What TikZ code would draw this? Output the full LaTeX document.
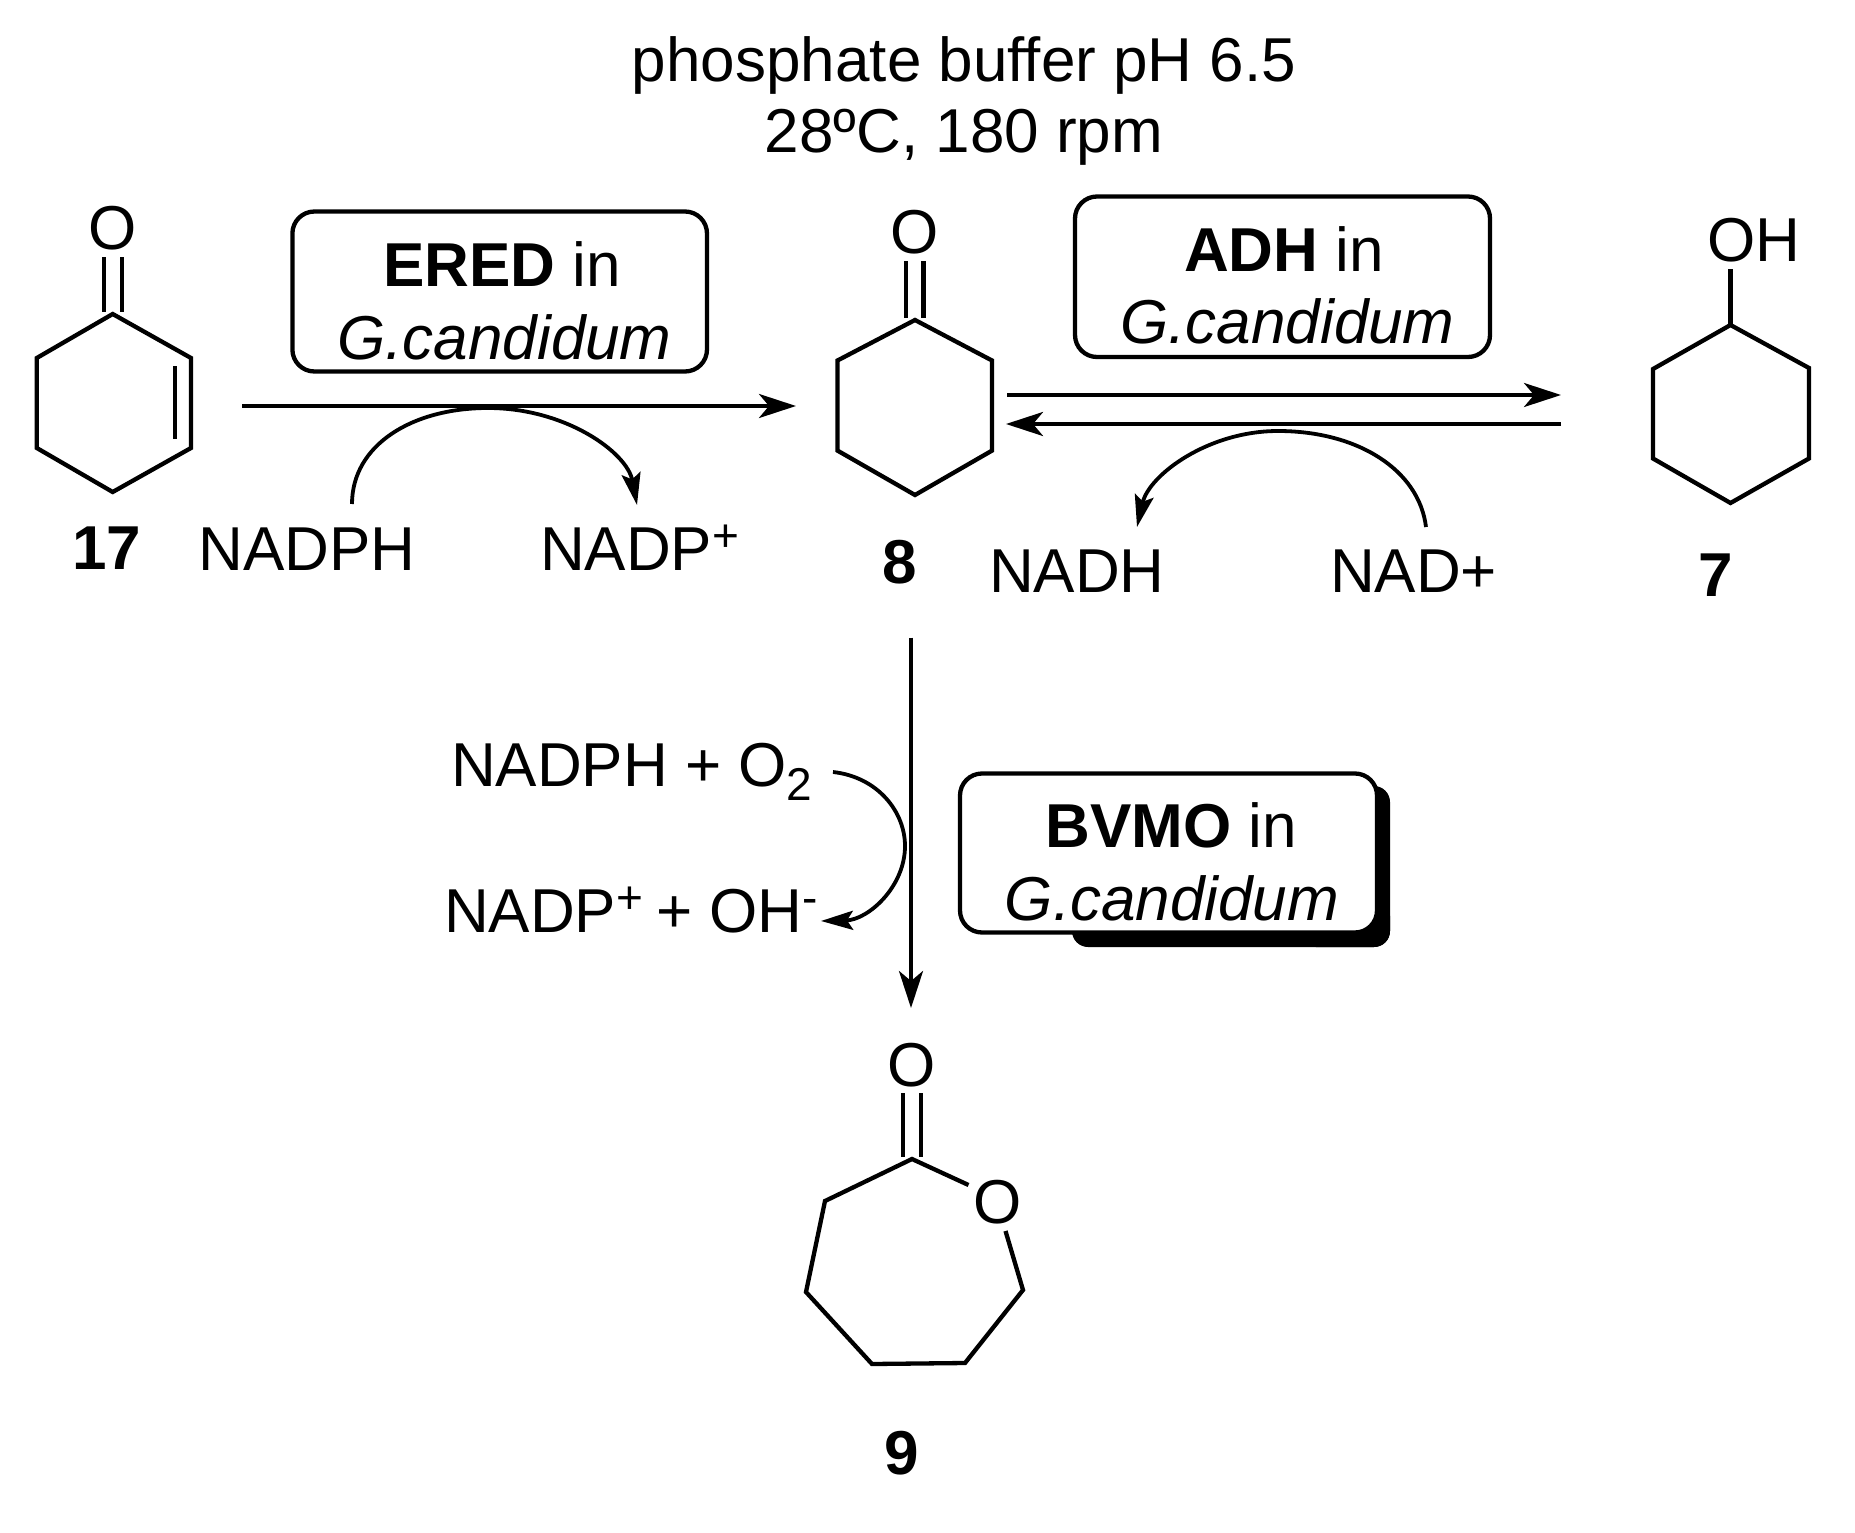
\documentclass[tikz,border=0pt]{standalone}
\usepackage{fontspec}
\setmainfont{Liberation Sans}
\usetikzlibrary{arrows.meta}
\newcommand{\supplus}[1]{\raisebox{19pt}{\fontsize{46}{46}\selectfont #1}}
\newcommand{\subtwo}{\raisebox{-14pt}{\fontsize{46}{46}\selectfont 2}}
\tikzset{
  txt/.style={anchor=base,inner sep=0pt,outer sep=0pt,font=\fontsize{62}{62}\selectfont},
  bold/.style={txt,font=\fontsize{62}{62}\selectfont\bfseries},
  bond/.style={line width=4.3pt,line join=miter,line cap=butt},
  rxn/.style={line width=4pt,-{Stealth[length=37pt,width=24pt,inset=10pt]}},
  curved/.style={line width=3.8pt,-{Stealth[length=32pt,width=19pt,inset=6pt]}},
  enzbox/.style={line width=4.3pt,rounded corners=22pt,fill=white}
}
\begin{document}
\begin{tikzpicture}[x=1pt,y=-1pt]
\useasboundingbox (0,0) rectangle (1855,1533);
\fill[white] (0,0) rectangle (1855,1533);
% title
\node[txt] (t1) at (964,82) {phosphate buffer pH 6.5};
\node[txt] (t2) at (964,153) {28ºC, 180 rpm};
% ---- molecule 17
\coordinate (a1) at (112.7,314);
\coordinate (a2) at (36.8,358);
\coordinate (a3) at (36.8,448);
\coordinate (a4) at (112.7,492);
\coordinate (a5) at (191,448);
\coordinate (a6) at (191,358);
\draw[bond] (a1)--(a2)--(a3)--(a4)--(a5)--(a6)--cycle;
\coordinate (a7) at (175,366);
\coordinate (a8) at (175,439);
\draw[bond] (a7)--(a8);
\coordinate (a9) at (104,257);
\coordinate (a10) at (104,312);
\coordinate (a11) at (121.7,257);
\coordinate (a12) at (121.7,312);
\draw[bond] (a9)--(a10) (a11)--(a12);
\node[txt] (oa) at (113,250) {O};
\node[bold] (l17) at (107,569) {17};
% ---- ERED
\draw[enzbox] (292.4,211.5) rectangle (707,371.5);
\node[txt] (ered) at (502,286) {\textbf{ERED} in};
\node[txt] (gc1) at (504.5,359) {\textit{G.candidum}};
\coordinate (r1s) at (242,406);
\coordinate (r1e) at (796,406);
\draw[rxn] (r1s)--(r1e);
\node[txt,anchor=base west] (nadph1) at (198.5,570) {NADPH};
\node[txt,anchor=base west] (nadp1) at (540,570) {NADP\supplus{+}};
\coordinate (c1s) at (352,504);
\coordinate (c1m) at (488,408);
\coordinate (c1e) at (637,505);
\draw[curved] (c1s) .. controls (352,445) and (412,408) .. (c1m) .. controls (565,408) and (627,452) .. (c1e);
% ---- molecule 8
\coordinate (b1) at (915,320);
\coordinate (b2) at (837.5,360.5);
\coordinate (b3) at (837.5,450.6);
\coordinate (b4) at (915,495);
\coordinate (b5) at (992,450.6);
\coordinate (b6) at (992,360.5);
\draw[bond] (b1)--(b2)--(b3)--(b4)--(b5)--(b6)--cycle;
\coordinate (b7) at (906,261);
\coordinate (b8) at (906,318);
\coordinate (b9) at (923.5,261);
\coordinate (b10) at (923.5,318);
\draw[bond] (b7)--(b8) (b9)--(b10);
\node[txt] (ob) at (915,253) {O};
\node[bold] (l8) at (900,583) {8};
% ---- ADH
\draw[enzbox] (1075,196.5) rectangle (1490,357);
\node[txt] (adh) at (1284,271) {\textbf{ADH} in};
\node[txt] (gc2) at (1287.5,343) {\textit{G.candidum}};
\coordinate (r2s) at (1007,395);
\coordinate (r2e) at (1561,395);
\coordinate (r3s) at (1561,424);
\coordinate (r3e) at (1006,424);
\draw[rxn] (r2s)--(r2e);
\draw[rxn] (r3s)--(r3e);
\node[txt,anchor=base west] (nadh) at (989,592.5) {NADH};
\node[txt,anchor=base west] (nadp2) at (1330,592.5) {NAD+};
\coordinate (c2s) at (1426,527);
\coordinate (c2m) at (1278,431);
\coordinate (c2e) at (1137,527);
\draw[curved] (c2s) .. controls (1419,470) and (1358,431) .. (c2m) .. controls (1208,431) and (1149,475) .. (c2e);
% ---- molecule 7
\coordinate (d1) at (1730.5,325);
\coordinate (d2) at (1653,369);
\coordinate (d3) at (1653,458.5);
\coordinate (d4) at (1730.5,503);
\coordinate (d5) at (1809,458.5);
\coordinate (d6) at (1809,368);
\draw[bond] (d1)--(d2)--(d3)--(d4)--(d5)--(d6)--cycle;
\coordinate (d7) at (1730.5,269);
\draw[bond] (d7)--(d1);
\node[txt,anchor=base west] (oh) at (1707,261) {OH};
\node[bold] (l7) at (1716,596) {7};
% ---- down arrow
\coordinate (r4s) at (911,637.5);
\coordinate (r4e) at (911,1008);
\draw[rxn] (r4s)--(r4e);
\node[txt,anchor=base west] (nadph2) at (451,786) {NADPH + O\subtwo};
\node[txt,anchor=base west] (nadp3) at (444,932) {NADP\supplus{+}\kern-4pt{} + OH\supplus{-}};
\coordinate (c3s) at (833,772);
\coordinate (c3m) at (905,846);
\coordinate (c3e) at (821,921);
\draw[curved] (c3s) .. controls (878,777) and (905,812) .. (c3m) .. controls (905,887) and (868,920) .. (c3e);
% ---- BVMO
\fill[black,rounded corners=16pt] (1072,900) rectangle (1390,947);
\fill[black,rounded corners=16pt] (1300,786) rectangle (1390,947);
\draw[enzbox] (960,773.5) rectangle (1377,932.5);
\node[txt] (bvmo) at (1171,847) {\textbf{BVMO} in};
\node[txt] (gc3) at (1172,920) {\textit{G.candidum}};
% ---- molecule 9
\coordinate (e1) at (912,1159);
\coordinate (e2) at (825,1201);
\coordinate (e3) at (806,1292);
\coordinate (e4) at (872,1364);
\coordinate (e5) at (965,1363);
\coordinate (e6) at (1023,1290);
\coordinate (e7) at (1005.5,1231);
\coordinate (e8) at (968.5,1185);
\draw[bond] (e7)--(e6)--(e5)--(e4)--(e3)--(e2)--(e1)--(e8);
\coordinate (e9) at (903,1093);
\coordinate (e10) at (903,1157);
\coordinate (e11) at (921,1093);
\coordinate (e12) at (921,1157);
\draw[bond] (e9)--(e10) (e11)--(e12);
\node[txt] (oe1) at (912,1086) {O};
\node[txt] (oe2) at (998,1223) {O};
\node[bold] (l9) at (901.5,1474) {9};
\end{tikzpicture}
\end{document}
